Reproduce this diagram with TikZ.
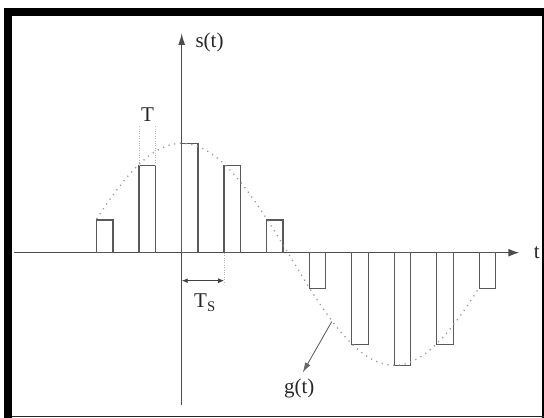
\documentclass[tikz,border=0pt]{standalone}
\usepackage{fontspec}
\setmainfont{Liberation Serif}
\usetikzlibrary{arrows.meta}

\begin{document}
\begin{tikzpicture}[x=1pt,y=1pt,
    axisline/.style={draw=black!70, line width=1.4pt},
    pulse/.style={draw=black!65, line width=1.4pt},
    guide/.style={draw=black!30, line width=0.7pt, dash pattern=on 0.8pt off 1.6pt},
    curve/.style={draw=black!40, line width=1.3pt, dash pattern=on 1.2pt off 4.6pt},
    lbl/.style={font=\fontsize{21}{24}\selectfont, text=black!85, inner sep=0pt}]
  \useasboundingbox (-181.7,-165.3) rectangle (362.3,252.7);
  % frame
  \fill[black] (-177.7,244.7) rectangle (362.3,236.7);
  \fill[black] (-177.7,244.7) rectangle (-169.2,-165.3);
  \fill[black] (360.3,244.7) rectangle (362.3,-165.3);
  \fill[black!85] (-169.2,-163.4) rectangle (362.3,-164.7);
  % axes
  \node[lbl] (tlbl) at (355,0) {t};
  \node[lbl] (slbl) at (27.8,210.2) {s(t)};
  \coordinate (tstart) at (-167.7,0);
  \coordinate (tend) at (337.6,0);
  \coordinate (sstart) at (0,-152.3);
  \coordinate (send) at (0,219.7);
  \draw[axisline,-{Latex[length=11pt,width=8pt]}] (tstart) -- (tend);
  \draw[axisline,-{Latex[length=12pt,width=7pt]}] (sstart) -- (send);
  % sampled pulses
  \foreach \n/\h in {-2/32.7,-1/87.4,0/109.4,1/87.4,2/32.7,3/-35.6,4/-91.6,5/-112.6,6/-91.6,7/-35.6}
    \draw[pulse] (\n*42.5,0) rectangle ++(16.5,\h);
  % g(t)
  \draw[curve] plot[domain=-85:297.5, samples=140]
    (\x, {ifthenelse(\x<106.25,109.4,112.6)*cos(\x/42.5*36)});
  % pulse width T
  \node[lbl] (Tlbl) at (-34.2,137.7) {T};
  \draw[guide] (-42.5,87.4) -- (-42.5,127.7);
  \draw[guide] (-26,87.4) -- (-26,127.7);
  % sampling period Ts
  \coordinate (ts0) at (0,-28);
  \coordinate (ts1) at (42.5,-28);
  \draw[guide] (42.5,0) -- (42.5,-30);
  \draw[draw=black!75, line width=1.1pt, {Latex[length=6pt,width=5pt]}-{Latex[length=6pt,width=5pt]}] (ts0) -- (ts1);
  \node[lbl] (tslbl) at (23.3,-50) {T\textsubscript{S}};
  % pointer to g(t)
  \node[lbl] (glbl) at (117.6,-135.6) {g(t)};
  \coordinate (gcurve) at (150,-69);
  \draw[draw=black!60, line width=0.9pt, -{Latex[length=10pt,width=6pt]}, shorten >=7pt] (gcurve) -- (glbl.north);
\end{tikzpicture}
\end{document}
